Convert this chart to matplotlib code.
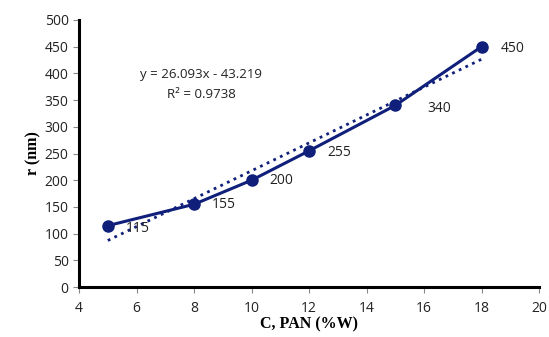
import numpy as np
import matplotlib
matplotlib.use("Agg")
import matplotlib.pyplot as plt

# concentration of PAN (%W) and fiber radius (nm)
conc = [5, 8, 10, 12, 15, 18]
radius = [115, 155, 200, 255, 340, 450]
labels = ["115", "155", "200", "255", "340", "450"]
xticks = [4, 6, 8, 10, 12, 14, 16, 18, 20]
yticks = [0, 50, 100, 150, 200, 250, 300, 350, 400, 450, 500]

navy = "#0f1f7a"

fig = plt.figure(figsize=(5.49, 3.37), dpi=100)
ax = fig.add_axes([0.144, 0.148, 0.838, 0.793])

ax.plot(conc, radius, "-", color=navy, lw=2.2, marker="o", markersize=8, zorder=3)

# linear trendline
slope, inter = np.polyfit(conc, radius, 1)
xs = np.array([conc[0], conc[-1]])
ax.plot(xs, slope * xs + inter, ":", color=navy, lw=2, zorder=2)

# data labels
offs = [(18, -3), (18, 0), (18, 0), (18, -2), (32, -3), (19, -2)]
for x, y, t, o in zip(conc, radius, labels, offs):
    ax.annotate(t, (x, y), xytext=o, textcoords="offset pixels",
                ha="left", va="center", fontsize=10, family="Open Sans", color="#222222")

ax.text(8.25, 397, "y = 26.093x - 43.219", ha="center", va="center",
        fontsize=9.5, family="Open Sans", color="#222222")
ax.text(8.25, 361, "R² = 0.9738", ha="center", va="center",
        fontsize=9.5, family="Open Sans", color="#222222")

ax.set_xlim(4, 20)
ax.set_ylim(0, 500)
ax.set_xticks(xticks)
ax.set_yticks(yticks)
for lab in ax.get_xticklabels() + ax.get_yticklabels():
    lab.set_family("Open Sans")
    lab.set_fontsize(10)
    lab.set_color("#222222")

ax.spines["top"].set_visible(False)
ax.spines["right"].set_visible(False)
ax.spines["left"].set_linewidth(2.2)
ax.spines["bottom"].set_linewidth(2.2)
ax.tick_params(direction="out", length=4, width=0.8, color="#888888")
ax.tick_params(axis="x", pad=6)

ax.set_xlabel("C, PAN (%W)", family="Liberation Serif", fontweight="bold", fontsize=11.5, labelpad=0)
ax.set_ylabel("r (nm)", family="Liberation Serif", fontweight="bold", fontsize=11.5, labelpad=2)

fig.savefig("out.png", dpi=100)
